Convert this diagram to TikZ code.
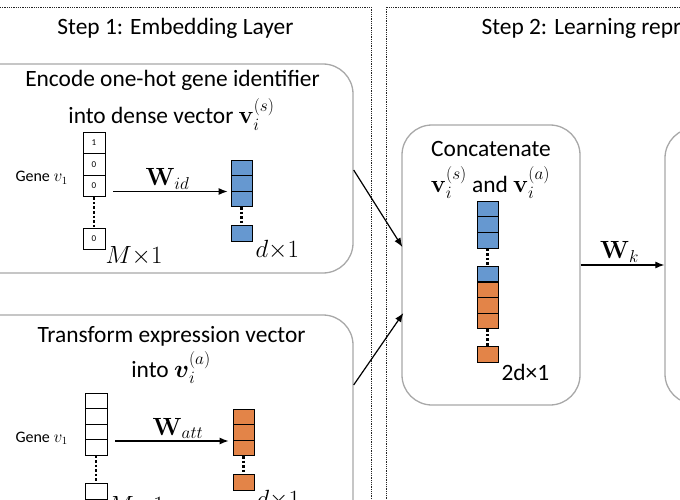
\documentclass[tikz,border=0pt]{standalone}
\usepackage{amsmath}
\usepackage[no-math]{fontspec}
\setmainfont{Carlito}
\usetikzlibrary{arrows.meta,positioning,calc}
\DeclareMathSizes{23.4}{23.4}{17.5}{13}

\definecolor{embblue}{HTML}{6698D0}
\definecolor{attorange}{HTML}{E38448}
\definecolor{panelgray}{HTML}{A8A8A8}

\begin{document}
\begin{tikzpicture}
  [x=1pt,y=-1pt,
   every node/.style={font=\fontsize{23.4}{28}\selectfont},
   panel/.style={draw=panelgray,line width=1.3pt,rounded corners=30pt,inner sep=0pt},
   frame/.style={draw=black!85,line width=0.9pt,dash pattern=on 0.9pt off 0.9pt},
   onehot/.style={draw,line width=0.8pt,minimum width=22pt,minimum height=21.5pt,inner sep=0pt,font=\fontsize{9}{10}\selectfont},
   incell/.style={draw,line width=0.8pt,minimum width=22pt,minimum height=15.5pt,inner sep=0pt},
   embcell/.style={draw,fill=embblue,line width=0.8pt,minimum width=21pt,minimum height=15.5pt,inner sep=0pt},
   attcell/.style={draw,fill=attorange,line width=0.8pt,minimum width=21pt,minimum height=15.5pt,inner sep=0pt},
   vdots/.style={draw,line width=2.6pt,dash pattern=on 2.6pt off 2pt},
   arr/.style={-{Latex[length=9pt,width=7pt]},line width=1.2pt},
   genelbl/.style={anchor=base west,font=\fontsize{16}{18}\selectfont}]

  \useasboundingbox (0,0) rectangle (680,500);
  \clip (0,0) rectangle (680,500);

  % step frames
  \draw[frame] (-20,7) rectangle (371,530);
  \draw[frame] (386,7) rectangle (720,530);
  \node[anchor=base] (title1) at (175.5,35) {Step 1: Embedding Layer};
  \node[anchor=base west] (title2) at (478,35) {Step 2: Learning representation};

  % panels
  \node[panel,minimum width=413pt,minimum height=209pt] (encpanel) at (146.5,168.5) {};
  \node[panel,minimum width=413pt,minimum height=230pt] (attpanel) at (146.5,430) {};
  \node[panel,minimum width=178pt,minimum height=280pt] (catpanel) at (491,265) {};
  \node[panel,minimum width=200pt,minimum height=276pt] (reppanel) at (765,266) {};

  % one-hot identifier
  \node[anchor=base] (enctxt1) at (172.5,87) {Encode one-hot gene identifier};
  \node[anchor=base] (enctxt2) at (171.5,124) {into dense vector $\mathbf{v}_i^{(s)}$};
  \node[genelbl] (gene1) at (12,182) {Gene $v_1$};

  \node[onehot] (oh1) at (94,143) {1};
  \node[onehot] (oh2) at (94,164.5) {0};
  \node[onehot] (oh3) at (94,186) {0};
  \node[onehot] (oh4) at (94,239) {0};
  \draw[vdots] (oh3.south) -- (oh4.north);
  \node[anchor=base west] (ohdim) at (102,263) {$M{\times}1$};

  \node[embcell] (emb1) at (241.5,167.75) {};
  \node[embcell] (emb2) at (241.5,183.25) {};
  \node[embcell] (emb3) at (241.5,198.75) {};
  \node[embcell] (emb4) at (241.5,233.5) {};
  \draw[vdots] (emb3.south) -- (emb4.north);
  \node[anchor=base west] (embdim) at (252,257) {$d{\times}1$};

  \draw[arr] ([xshift=8pt,yshift=-5.5pt]oh3.east) -- node[above,inner sep=1.5pt,xshift=-3pt] {$\mathbf{W}_{id}$} ([xshift=-3pt,yshift=7.25pt]emb3.west);

  % expression vector
  \node[anchor=base] (atttxt1) at (171.5,342) {Transform expression vector};
  \node[anchor=base] (atttxt2) at (171,377) {into $\boldsymbol{v}_i^{(a)}$};
  \node[genelbl] (gene2) at (12,442) {Gene $v_1$};

  \node[incell] (in1) at (96,400.75) {};
  \node[incell] (in2) at (96,416.25) {};
  \node[incell] (in3) at (96,431.75) {};
  \node[incell] (in4) at (96,447.25) {};
  \node[incell] (in5) at (96,491.25) {};
  \draw[vdots] (in4.south) -- (in5.north);
  \node[anchor=base west] (indim) at (104,513) {$M{\times}1$};

  \node[attcell] (att1) at (243.5,416.75) {};
  \node[attcell] (att2) at (243.5,432.25) {};
  \node[attcell] (att3) at (243.5,447.75) {};
  \node[attcell] (att4) at (243.5,482.25) {};
  \draw[vdots] (att3.south) -- (att4.north);
  \node[anchor=base west] (attdim) at (253,507) {$d{\times}1$};

  \draw[arr] ([xshift=8pt,yshift=6.25pt]in4.east) -- node[above,inner sep=1.5pt,xshift=6pt] {$\mathbf{W}_{att}$} ([xshift=-4pt,yshift=6.75pt]att3.west);

  % concatenation
  \node[anchor=base] (cattxt1) at (491,157) {Concatenate};
  \node[anchor=base] (cattxt2) at (490.5,192) {$\mathbf{v}_i^{(s)}$ and $\mathbf{v}_i^{(a)}$};

  \node[embcell,minimum height=15.6pt] (cat1) at (487.5,208.8) {};
  \node[embcell,minimum height=15.6pt] (cat2) at (487.5,224.5) {};
  \node[embcell,minimum height=15.6pt] (cat3) at (487.5,240.2) {};
  \node[embcell,minimum height=15.6pt] (cat4) at (487.5,274) {};
  \node[attcell,minimum height=15.6pt] (cat5) at (487.5,289.7) {};
  \node[attcell,minimum height=15.6pt] (cat6) at (487.5,305.3) {};
  \node[attcell,minimum height=15.6pt] (cat7) at (487.5,321) {};
  \node[attcell,minimum height=15.6pt] (cat8) at (487.5,354.5) {};
  \draw[vdots] (cat3.south) -- (cat4.north);
  \draw[vdots] (cat7.south) -- (cat8.north);
  \node[anchor=base west] (catdim) at (498,380) {2d×1};

  % connections
  \draw[arr] ([yshift=-1.5pt]encpanel.east) -- ([xshift=1pt,yshift=18pt]catpanel.west);
  \draw[arr] ([yshift=45pt]attpanel.east) -- ([xshift=2pt,yshift=-48pt]catpanel.west);
  \draw[arr] (catpanel.east) -- node[above,inner sep=2pt,xshift=-3pt] {$\mathbf{W}_k$} (catpanel.east -| reppanel.west);

\end{tikzpicture}
\end{document}
